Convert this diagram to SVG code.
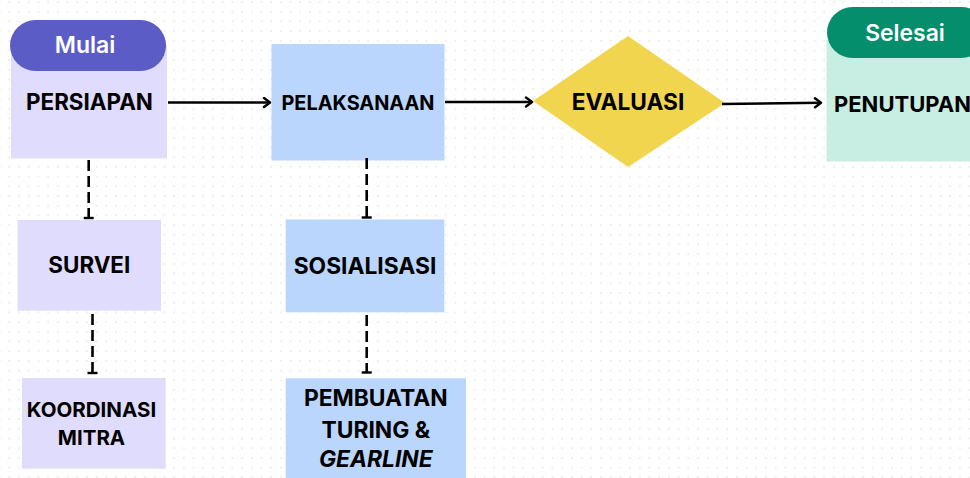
<svg xmlns="http://www.w3.org/2000/svg" width="970" height="478" viewBox="0 0 970 478">
<defs>
<pattern id="dots" x="8.3" y="1" width="9.7" height="9.7" patternUnits="userSpaceOnUse">
<circle cx="1" cy="1" r="0.9" fill="#e6e6e8"/>
</pattern>
<marker id="arr" markerWidth="12" markerHeight="12" refX="9" refY="6" orient="auto" markerUnits="userSpaceOnUse">
<path d="M3,1.5 L9,6 L3,10.5" fill="none" stroke="#000" stroke-width="2.4" stroke-linecap="round" stroke-linejoin="round"/>
</marker>
<marker id="tee" markerWidth="6" markerHeight="14" refX="3" refY="7" orient="auto" markerUnits="userSpaceOnUse">
<path d="M3,2 L3,12" stroke="#000" stroke-width="2.4"/>
</marker>
<style>
.t{font-family:Inter,"Liberation Sans",Arial,sans-serif;font-weight:700;fill:#000;text-anchor:middle}
.w{font-family:Inter,"Liberation Sans",Arial,sans-serif;font-weight:600;fill:#fff;text-anchor:middle}
.lav{fill:#e0dcfe}
.blu{fill:#bbd6fd}
.sol{stroke:#000;stroke-width:2.6;fill:none}
.dsh{stroke:#000;stroke-width:2.6;fill:none;stroke-dasharray:11 5}
</style>
</defs>
<rect width="970" height="478" fill="#fff"/>
<rect width="970" height="478" fill="url(#dots)"/>

<g id="persiapan">
<rect class="lav" x="11" y="45" width="156" height="113.5"/>
<rect x="10" y="20" width="156" height="51" rx="25.5" fill="#5c5cc7"/>
<text class="w" x="85" y="53" font-size="23">Mulai</text>
<text class="t" x="89.5" y="110" font-size="22.4">PERSIAPAN</text>
</g>

<g id="pelaksanaan">
<rect class="blu" x="271.5" y="44" width="173" height="116.5"/>
<text class="t" x="358" y="110" font-size="19.9">PELAKSANAAN</text>
</g>

<g id="evaluasi">
<polygon points="628,36 725,103 628,167 533,101" fill="#f2d54e"/>
<text class="t" x="628" y="110" font-size="22.7">EVALUASI</text>
</g>

<g id="penutupan">
<rect x="826.5" y="40" width="150" height="121.5" fill="#c8ede3"/>
<rect x="827" y="7" width="160" height="51" rx="25.5" fill="#048e6b"/>
<text class="w" x="905" y="40.5" font-size="22.9">Selesai</text>
<text class="t" x="834" y="111.5" font-size="22" style="text-anchor:start">PENUTUPAN</text>
</g>

<g id="survei">
<rect class="lav" x="17.5" y="220" width="143.5" height="90.7"/>
<text class="t" x="89.3" y="273.3" font-size="22.4">SURVEI</text>
</g>

<g id="koordinasi">
<rect class="lav" x="22" y="378" width="143.7" height="90.7"/>
<text class="t" x="91.5" y="416.7" font-size="20.5">KOORDINASI</text>
<text class="t" x="91.5" y="445" font-size="20.5">MITRA</text>
</g>

<g id="sosialisasi">
<rect class="blu" x="285.7" y="219.5" width="158.6" height="92.8"/>
<text class="t" x="365" y="274" font-size="22.8">SOSIALISASI</text>
</g>

<g id="pembuatan">
<rect class="blu" x="285.7" y="378.3" width="180.3" height="105"/>
<text class="t" x="375.8" y="406" font-size="22.8">PEMBUATAN</text>
<text class="t" x="375.8" y="438" font-size="22.8">TURING &amp;</text>
<text class="t" x="375.8" y="466.5" font-size="22.8" font-style="italic">GEARLINE</text>
</g>

<g id="connectors">
<line class="sol" x1="168" y1="102.5" x2="270" y2="102.5" marker-end="url(#arr)"/>
<line class="sol" x1="445" y1="102" x2="532" y2="102" marker-end="url(#arr)"/>
<line class="sol" x1="722" y1="104" x2="821" y2="102.7" marker-end="url(#arr)"/>
<line class="dsh" x1="88.7" y1="160" x2="88.7" y2="218" marker-end="url(#tee)"/>
<line class="dsh" x1="92.5" y1="314" x2="92.5" y2="373" marker-end="url(#tee)"/>
<line class="dsh" x1="366.7" y1="158" x2="366.7" y2="217.5" marker-end="url(#tee)"/>
<line class="dsh" x1="366.7" y1="315" x2="366.7" y2="372.5" marker-end="url(#tee)"/>
</g>
</svg>
